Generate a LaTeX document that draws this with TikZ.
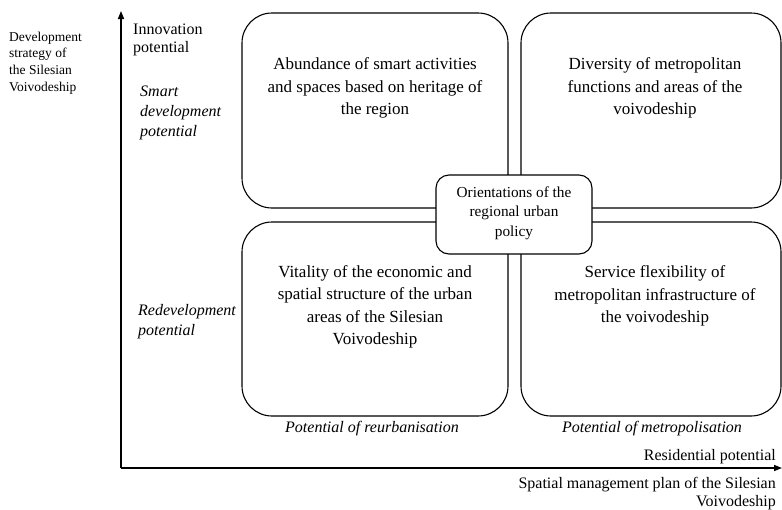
\documentclass[tikz,border=0pt]{standalone}
\usepackage{fontspec}
\setmainfont{LiberationSerif}[Extension=.ttf,UprightFont=*-Regular,ItalicFont=*-Italic,BoldFont=*-Bold,BoldItalicFont=*-BoldItalic]
\usetikzlibrary{arrows.meta}
\begin{document}
\begin{tikzpicture}[x=1pt,y=-1pt,
  quad/.style={draw,line width=1.1pt,rounded corners=30pt,fill=white},
  hub/.style={draw,line width=1.1pt,rounded corners=13pt,fill=white},
  boxtext/.style={align=center,inner sep=0pt,font=\fontsize{17}{22.5}\selectfont},
  hubtext/.style={align=center,inner sep=0pt,font=\fontsize{15.3}{19.5}\selectfont},
  axlabel/.style={inner sep=0pt,font=\fontsize{16}{18}\selectfont},
  itlabel/.style={inner sep=0pt,font=\fontsize{16}{20}\selectfont\itshape},
  sidelabel/.style={inner sep=0pt,align=left,font=\fontsize{13.5}{16.7}\selectfont},
  axis/.style={line width=1.5pt,-{Triangle[length=8pt,width=6pt]}}]
\useasboundingbox (0,0) rectangle (782,509);
% axes
\coordinate (origin) at (121,468);
\coordinate (ytop) at (121,11);
\coordinate (xend) at (782,468);
\draw[axis] (origin) -- (ytop);
\draw[axis] (origin) -- (xend);
% quadrant boxes
\draw[quad] (242,13) rectangle (508,208);
\draw[quad] (521,13) rectangle (781,208);
\draw[quad] (242,222) rectangle (508,416);
\draw[quad] (521,222) rectangle (781,416);
\node[boxtext] (tl) at (375,88) {Abundance of smart activities\\and spaces based on heritage of\\the region};
\node[boxtext] (tr) at (655,88) {Diversity of metropolitan\\functions and areas of the\\voivodeship};
\node[boxtext] (bl) at (375,307) {Vitality of the economic and\\spatial structure of the urban\\areas of the Silesian\\Voivodeship};
\node[boxtext] (br) at (655,296) {Service flexibility of\\metropolitan infrastructure of\\the voivodeship};
% hub
\draw[hub] (436,175) rectangle (592,254);
\node[hubtext] (hub) at (514,213) {Orientations of the\\regional urban\\policy};
% labels
\node[sidelabel,anchor=west] (strategy) at (9,63) {Development\\strategy of\\the Silesian\\Voivodeship};
\node[axlabel,anchor=west,align=left] (innov) at (133,40) {Innovation\\potential};
\node[itlabel,anchor=west,align=left] (smart) at (140,113) {Smart\\development\\potential};
\node[itlabel,anchor=west,align=left] (redev) at (138,322) {Redevelopment\\potential};
\node[itlabel] (reurb) at (372,429) {Potential of reurbanisation};
\node[itlabel] (metro) at (652,429) {Potential of metropolisation};
\node[axlabel,anchor=east] (resid) at (776,457) {Residential potential};
\node[axlabel,anchor=east,align=right] (plan) at (776,494) {Spatial management plan of the Silesian\\Voivodeship};
\end{tikzpicture}
\end{document}
